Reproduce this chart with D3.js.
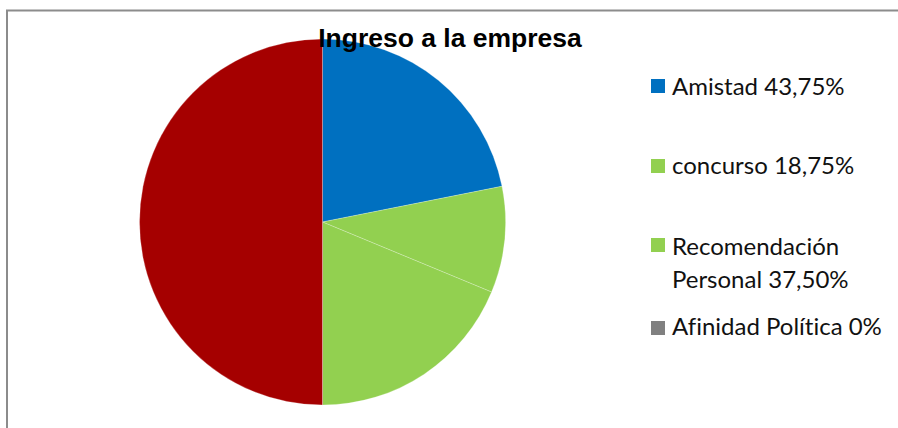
<!DOCTYPE html>
<html>
<head>
<meta charset="utf-8">
<script src="https://cdn.jsdelivr.net/npm/d3@7"></script>
<style>
  html, body { margin: 0; padding: 0; background: #fff; }
  svg { display: block; }
  .legend text { font-variant-ligatures: none; font-feature-settings: "liga" 0; }
</style>
</head>
<body>
<svg id="chart" width="898" height="428"></svg>
<script>
// Slice categories and values (the last, unlabeled slice completes the total)
const categories = ["Amistad", "concurso", "Recomendación Personal", "Afinidad Política", "Total"];
const values = [43.75, 18.75, 37.5, 0, 100];
const colors = ["#0070C0", "#92D050", "#92D050", "#808080", "#A50000"];
const legendLabels = [
  ["Amistad 43,75%"],
  ["concurso 18,75%"],
  ["Recomendación", "Personal 37,50%"],
  ["Afinidad Política 0%"]
];

const svg = d3.select("#chart");

// Chart frame
svg.append("path")
  .attr("d", "M7,428 V10.5 H898")
  .attr("fill", "none")
  .attr("stroke", "#8c8c8c")
  .attr("stroke-width", 2);

const cx = 322.5, cy = 222, r = 183;

const data = categories.map((c, i) => ({ name: c, value: values[i], color: colors[i] }));

const pie = d3.pie().sort(null).value(d => d.value);
const arc = d3.arc().innerRadius(0).outerRadius(r);

const g = svg.append("g").attr("transform", `translate(${cx},${cy})`);
g.selectAll("path")
  .data(pie(data))
  .join("path")
  .attr("d", arc)
  .attr("fill", d => d.data.color)
  .attr("stroke", "rgba(255,255,255,0.35)")
  .attr("stroke-width", 0.7);

// Title
svg.append("text")
  .attr("x", 450)
  .attr("y", 47)
  .attr("text-anchor", "middle")
  .attr("font-family", "Liberation Sans, Arial, sans-serif")
  .attr("font-weight", "bold")
  .attr("font-size", 26.5)
  .attr("fill", "#000")
  .text("Ingreso a la empresa");

// Legend
const legendRows = [
  { sq: 79, base: [95] },
  { sq: 159, base: [174] },
  { sq: 238, base: [255, 288] },
  { sq: 321, base: [335] }
];
const legend = svg.append("g").attr("class", "legend");
legendLabels.forEach((lines, i) => {
  const row = legendRows[i];
  legend.append("rect")
    .attr("x", 651)
    .attr("y", row.sq)
    .attr("width", 14)
    .attr("height", 14)
    .attr("fill", colors[i]);
  lines.forEach((t, j) => {
    legend.append("text")
      .attr("x", 672)
      .attr("y", row.base[j])
      .attr("font-family", "Lato, 'Open Sans', sans-serif")
      .attr("font-size", 24)
      .attr("fill", "#111")
      .text(t);
  });
});
</script>
</body>
</html>
